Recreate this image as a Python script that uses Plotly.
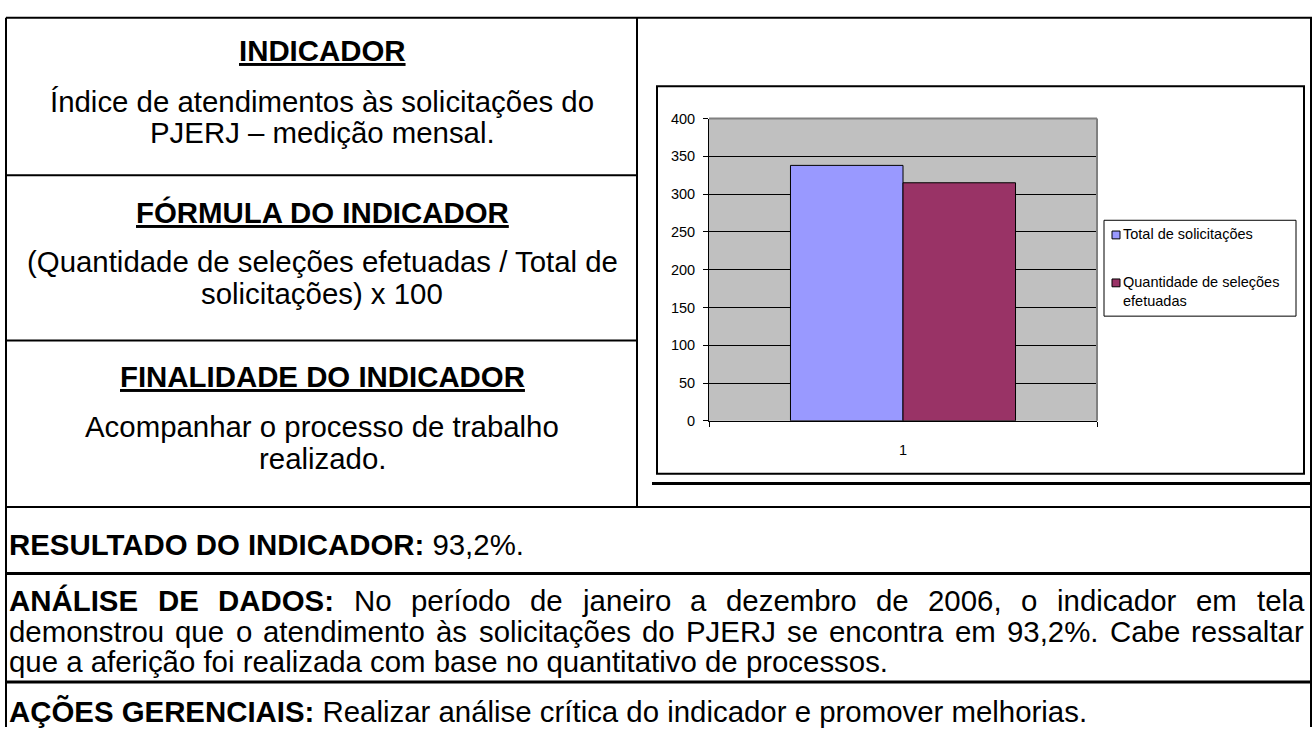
import plotly.graph_objects as go

W, H = 1313, 735
FONT = "Liberation Sans, Arial, sans-serif"

# ---------------- data ----------------
categories = ["1"]
series_names = ["Total de solicitações", "Quantidade de seleções<br>efetuadas"]
total_solicitacoes = [338]
selecoes_efetuadas = [315]
y_ticks = [0, 50, 100, 150, 200, 250, 300, 350, 400]
bar_colors = ["#9999FF", "#993366"]

block_titles = ["INDICADOR", "FÓRMULA DO INDICADOR", "FINALIDADE DO INDICADOR"]
block_texts = [
    ["Índice de atendimentos às solicitações do", "PJERJ – medição mensal."],
    ["(Quantidade de seleções efetuadas / Total de", "solicitações) x 100"],
    ["Acompanhar o processo de trabalho", "realizado."],
]
resultado_label = "RESULTADO DO INDICADOR:"
resultado_valor = "93,2%."
analise_label = "ANÁLISE DE DADOS:"
analise_line1 = "No período de janeiro a dezembro de 2006, o indicador em tela"
analise_line2 = "demonstrou que o atendimento às solicitações do PJERJ se encontra em 93,2%. Cabe ressaltar"
analise_line3 = "que a aferição foi realizada com base no quantitativo de processos."
acoes_label = "AÇÕES GERENCIAIS:"
acoes_text = "Realizar análise crítica do indicador e promover melhorias."

# ---------------- helpers ----------------
FS = 29.4


def px(x):
    return x / W


def py(y):
    return 1 - y / H


REG = {' ': 278, 'a': 556, 'b': 556, 'c': 500, 'd': 556, 'e': 556, 'f': 278, 'g': 556, 'h': 556,
       'i': 222, 'j': 222, 'k': 500, 'l': 222, 'm': 833, 'n': 556, 'o': 556, 'p': 556, 'q': 556,
       'r': 333, 's': 500, 't': 278, 'u': 556, 'v': 500, 'w': 722, 'x': 500, 'y': 500, 'z': 500,
       'á': 556, 'à': 556, 'ã': 556, 'â': 556, 'é': 556, 'ê': 556, 'í': 278, 'ó': 556, 'ô': 556,
       'õ': 556, 'ú': 556, 'ç': 500, 'A': 667, 'B': 667, 'C': 722, 'D': 722, 'E': 667, 'F': 611,
       'G': 778, 'H': 722, 'I': 278, 'J': 500, 'K': 667, 'L': 556, 'M': 833, 'N': 722, 'O': 778,
       'P': 667, 'Q': 778, 'R': 722, 'S': 667, 'T': 611, 'U': 722, 'V': 667, 'W': 944, 'X': 667,
       'Y': 667, 'Z': 611, ',': 278, '.': 278, '%': 889, ':': 278, '/': 278, '(': 333, ')': 333,
       '–': 556}
for d in "0123456789":
    REG[d] = 556
BOLD = {'A': 722, 'B': 722, 'C': 722, 'D': 722, 'E': 667, 'F': 611, 'G': 778, 'H': 722, 'I': 278,
        'J': 556, 'K': 722, 'L': 611, 'M': 833, 'N': 722, 'O': 778, 'P': 667, 'R': 722, 'S': 667,
        'T': 611, 'U': 722, 'Á': 722, 'Ç': 722, 'Õ': 778, 'Ó': 778, ' ': 278, ':': 333}


def text_width(s, bold=False):
    tab = BOLD if bold else REG
    return sum(tab.get(c, 556) for c in s) / 1000.0 * FS


annotations = []
shapes = []


def add_text(x, y, text, size=FS, xanchor="center"):
    annotations.append(dict(
        x=px(x), y=py(y), xref="paper", yref="paper", text=text, showarrow=False,
        xanchor=xanchor, yanchor="middle", borderpad=0, borderwidth=0,
        font=dict(family=FONT, size=size, color="#000000")))


def hline(x0, x1, y, w=2):
    shapes.append(dict(type="line", xref="paper", yref="paper", x0=px(x0), x1=px(x1),
                       y0=py(y), y1=py(y), line=dict(color="#000000", width=w)))


def vline(x, y0, y1, w=2):
    shapes.append(dict(type="line", xref="paper", yref="paper", x0=px(x), x1=px(x),
                       y0=py(y0), y1=py(y1), line=dict(color="#000000", width=w)))


def justified(words, y, left=9, right=1304):
    widths = [text_width(w, b) for w, b in words]
    gap = (right - left - sum(widths)) / (len(words) - 1)
    x = left
    for (w, b), wd in zip(words, widths):
        add_text(x, y, f"<b>{w}</b>" if b else w, xanchor="left")
        x += wd + gap


# ---------------- table frame ----------------
hline(6, 1312, 10)
vline(6, 10, 735)
vline(1311, 10, 735)
vline(637, 10, 510)
hline(6, 637, 171)
hline(6, 637, 340)
hline(6, 1312, 510)
hline(6, 1312, 578, 3)
hline(6, 1312, 689, 3)
# chart frame
shapes.append(dict(type="rect", xref="paper", yref="paper", x0=px(657), x1=px(1304),
                   y0=py(80), y1=py(476), line=dict(color="#000000", width=2), layer="below"))
hline(652, 1312, 486, 3)

# ---------------- left column ----------------
title_y = [43, 209, 377]
text_y = [[96, 127], [259, 292], [428, 461]]
for t, ty, lines, ly in zip(block_titles, title_y, block_texts, text_y):
    add_text(322, ty, f"<b><u>{t}</u></b>")
    for ln, yy in zip(lines, ly):
        add_text(322, yy, ln)

# ---------------- bottom rows ----------------
add_text(9, 548, f"<b>{resultado_label}</b> {resultado_valor}", xanchor="left")
w1 = [(w, True) for w in analise_label.split(" ")] + [(w, False) for w in analise_line1.split(" ")]
justified(w1, 606)
justified([(w, False) for w in analise_line2.split(" ")], 637)
add_text(9, 668, analise_line3, xanchor="left")
add_text(9, 719, f"<b>{acoes_label}</b> {acoes_text}", xanchor="left")

# ---------------- chart ----------------
fig = go.Figure()
for name, vals, col in zip(series_names, [total_solicitacoes, selecoes_efetuadas], bar_colors):
    fig.add_trace(go.Bar(x=categories, y=vals, name=name, showlegend=False,
                         marker=dict(color=col, line=dict(color="#000000", width=1))))

# plot-area border (top/right grey)
shapes.append(dict(type="line", xref="x domain", yref="y domain", x0=0, x1=1, y0=1, y1=1,
                   line=dict(color="#808080", width=2)))
shapes.append(dict(type="line", xref="x domain", yref="y domain", x0=1, x1=1, y0=0, y1=1,
                   line=dict(color="#808080", width=2)))

# legend box (drawn to match the original's compact layout)
shapes.append(dict(type="rect", xref="paper", yref="paper", x0=px(1104), x1=px(1296),
                   y0=py(217), y1=py(315), line=dict(color="#000000", width=1),
                   fillcolor="#FFFFFF"))
legend_y = [232, 281]
for name, col, ly in zip(series_names, bar_colors, legend_y):
    shapes.append(dict(type="rect", xref="paper", yref="paper", x0=px(1112), x1=px(1120),
                       y0=py(ly - 4), y1=py(ly + 4), line=dict(color="#000000", width=1),
                       fillcolor=col))
    annotations.append(dict(x=px(1123), y=py(ly - 9), xref="paper", yref="paper", text=name,
                            showarrow=False, xanchor="left", yanchor="top", align="left",
                            borderpad=0, borderwidth=0,
                            font=dict(family=FONT, size=14.5, color="#000000")))

fig.update_layout(
    width=W, height=H, autosize=False,
    margin=dict(l=0, r=0, t=0, b=0, pad=0),
    paper_bgcolor="#FFFFFF", plot_bgcolor="#C0C0C0",
    font=dict(family=FONT, size=14.5, color="#000000"),
    barmode="group", bargap=0.42, bargroupgap=0,
    showlegend=False,
    xaxis=dict(domain=[px(709), px(1097)], showline=True, linecolor="#000000", linewidth=1,
               ticks="outside", tickson="boundaries", ticklen=5, tickcolor="#000000",
               ticklabelstandoff=16, showgrid=False, fixedrange=True),
    yaxis=dict(domain=[py(422), py(113)], range=[0, 400], tickvals=y_ticks,
               showline=True, linecolor="#000000", linewidth=1, ticks="outside", ticklen=5,
               tickcolor="#000000", showgrid=True, gridcolor="#000000", gridwidth=1,
               zeroline=False, ticklabelstandoff=5, fixedrange=True),
    shapes=shapes, annotations=annotations,
)

fig.write_html("out.html", config={"displayModeBar": False},
               post_script="document.body.style.margin='0';document.body.style.overflow='hidden';")
